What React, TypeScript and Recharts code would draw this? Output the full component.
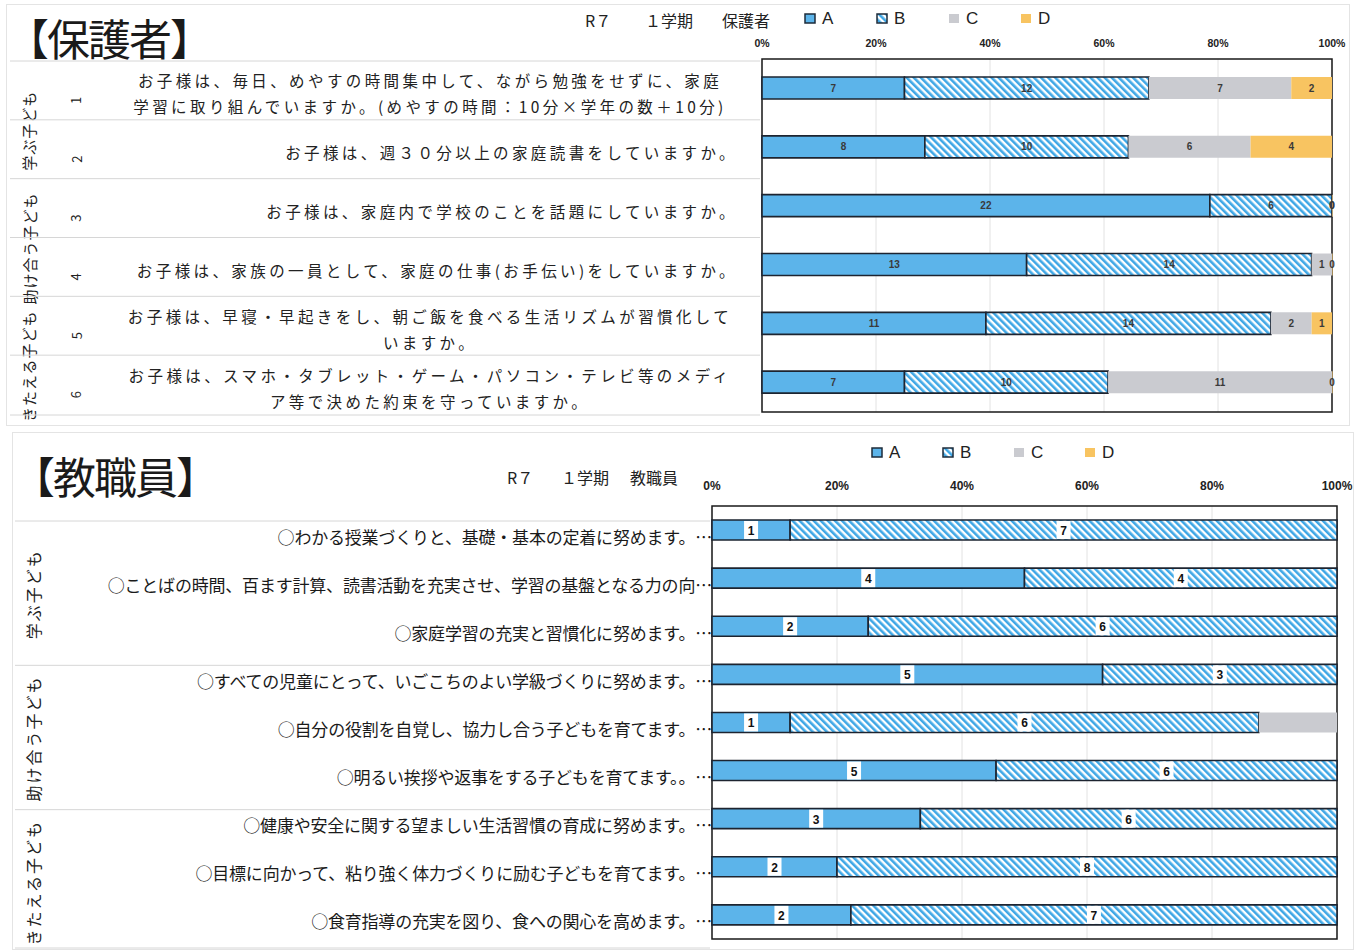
import React from 'react';
import { BarChart, Bar, XAxis, YAxis, CartesianGrid, LabelList, ReferenceArea } from 'recharts';

const JP = '"Noto Sans CJK JP", "Noto Sans", sans-serif';
const SANS = '"Liberation Sans", Arial, sans-serif';

// 保護者アンケート
const parentIds = ['1', '2', '3', '4', '5', '6'];
const parentQuestions = [
  ['お子様は、毎日、めやすの時間集中して、ながら勉強をせずに、家庭', '学習に取り組んでいますか。(めやすの時間：10分×学年の数＋10分)'],
  ['お子様は、週３０分以上の家庭読書をしていますか。'],
  ['お子様は、家庭内で学校のことを話題にしていますか。'],
  ['お子様は、家族の一員として、家庭の仕事(お手伝い)をしていますか。'],
  ['お子様は、早寝・早起きをし、朝ご飯を食べる生活リズムが習慣化して', 'いますか。'],
  ['お子様は、スマホ・タブレット・ゲーム・パソコン・テレビ等のメディ', 'ア等で決めた約束を守っていますか。'],
];
const parentA = [7, 8, 22, 13, 11, 7];
const parentB = [12, 10, 6, 14, 14, 10];
const parentC = [7, 6, 0, 1, 2, 11];
const parentD = [2, 4, 0, 0, 1, 0];

// 教職員アンケート
const teacherQuestions = [
  '○わかる授業づくりと、基礎・基本の定着に努めます。…',
  '○ことばの時間、百ます計算、読書活動を充実させ、学習の基盤となる力の向…',
  '○家庭学習の充実と習慣化に努めます。…',
  '○すべての児童にとって、いごこちのよい学級づくりに努めます。…',
  '○自分の役割を自覚し、協力し合う子どもを育てます。…',
  '○明るい挨拶や返事をする子どもを育てます。。…',
  '○健康や安全に関する望ましい生活習慣の育成に努めます。…',
  '○目標に向かって、粘り強く体力づくりに励む子どもを育てます。…',
  '○食育指導の充実を図り、食への関心を高めます。…',
];
const teacherA = [1, 4, 2, 5, 1, 5, 3, 2, 2];
const teacherB = [7, 4, 6, 3, 6, 6, 6, 8, 7];
const teacherC = [0, 0, 0, 0, 1, 0, 0, 0, 0];
const teacherD = [0, 0, 0, 0, 0, 0, 0, 0, 0];

const groupNames = ['学ぶ子ども', '助け合う子ども', 'きたえる子ども'];
const parentGroupSizes = [2, 2, 2];
const teacherGroupSizes = [3, 3, 3];

const seriesKeys = ['A', 'B', 'C', 'D'];
const percentTicks = [0, 0.2, 0.4, 0.6, 0.8, 1];

const parentData = parentIds.map((id, i) => ({
  id, A: parentA[i], B: parentB[i], C: parentC[i], D: parentD[i],
}));
const teacherData = teacherQuestions.map((q, i) => ({
  id: q, A: teacherA[i], B: teacherB[i], C: teacherC[i], D: teacherD[i],
}));

const colors: Record<string, string> = {
  A: '#5CB4EA',
  B: 'url(#hatchB)',
  C: '#CACBD0',
  D: '#F8C461',
};
const outlined: Record<string, boolean> = { A: true, B: true, C: false, D: false };

const groupStarts = (sizes: number[]) => {
  const starts: Record<number, number> = {};
  let k = 0;
  sizes.forEach((s, g) => { starts[k] = g; k += s; });
  return starts;
};
const parentStarts = groupStarts(parentGroupSizes);
const teacherStarts = groupStarts(teacherGroupSizes);

// chart geometry
const P_H = 425;
const P_MARGIN = { top: 39, right: 31, bottom: 13, left: 0 };
const P_ROW = (P_H - P_MARGIN.top - 20 - P_MARGIN.bottom) / parentIds.length;

const T_H = 522;
const T_MARGIN = { top: 56, right: 26, bottom: 13, left: 0 };
const T_ROW = (T_H - T_MARGIN.top - 20 - T_MARGIN.bottom) / teacherQuestions.length;

const pct = (v: number) => `${Math.round(v * 100)}%`;

const ParentTick = (props: any) => {
  const { y, payload } = props;
  const i = props.index ?? payload.index;
  const lines = parentQuestions[i] || [];
  const g = parentStarts[i];
  const lineGap = 26;
  const firstY = y + 5 - ((lines.length - 1) * lineGap) / 2;
  return (
    <g>
      <line x1={10} x2={760} y1={y - P_ROW / 2 + 2} y2={y - P_ROW / 2 + 2} stroke="#d6d6d6" />
      {i === parentIds.length - 1 && (
        <line x1={10} x2={760} y1={y + P_ROW / 2 + 3} y2={y + P_ROW / 2 + 3} stroke="#d6d6d6" />
      )}
      <text
        x={76} y={y + 12} fontSize={13} fill="#222" fontFamily={JP}
        textAnchor="middle" dominantBaseline="central"
        transform={`rotate(-90 76 ${y + 12})`}
      >
        {payload.value}
      </text>
      {lines.map((t: string, k: number) => (
        <text
          key={k}
          x={lines.length > 1 ? 430 : 738}
          y={firstY + k * lineGap}
          textAnchor={lines.length > 1 ? 'middle' : 'end'}
          dominantBaseline="central"
          fontSize={15.5}
          letterSpacing={3.4}
          fill="#222"
          fontFamily={JP}
        >
          {t}
        </text>
      ))}
      {g !== undefined && (() => {
        const cy = y - P_ROW / 2 + (parentGroupSizes[g] * P_ROW) / 2 + 13;
        return (
          <text
            x={29} y={cy} fontSize={15} fill="#222" fontFamily={JP}
            textAnchor="middle" dominantBaseline="central" letterSpacing={1}
            transform={`rotate(-90 29 ${cy})`}
          >
            {groupNames[g]}
          </text>
        );
      })()}
    </g>
  );
};

const TeacherTick = (props: any) => {
  const { y, payload } = props;
  const i = props.index ?? payload.index;
  const g = teacherStarts[i];
  return (
    <g>
      {g !== undefined && (
        <line x1={15} x2={710} y1={y - T_ROW / 2 + 15} y2={y - T_ROW / 2 + 15} stroke="#d6d6d6" />
      )}
      {i === teacherQuestions.length - 1 && (
        <line x1={15} x2={710} y1={y + T_ROW / 2 + 9} y2={y + T_ROW / 2 + 9} stroke="#d6d6d6" />
      )}
      <text
        x={712} y={y + 6} textAnchor="end" dominantBaseline="central"
        fontSize={17} fill="#1a1a1a" fontFamily={JP} letterSpacing={-0.2}
      >
        {payload.value}
      </text>
      {g !== undefined && (() => {
        const cy = y - T_ROW / 2 + (teacherGroupSizes[g] * T_ROW) / 2 + 16;
        return (
          <text
            x={33} y={cy} fontSize={16} fill="#222" fontFamily={JP}
            textAnchor="middle" dominantBaseline="central" letterSpacing={2}
            transform={`rotate(-90 33 ${cy})`}
          >
            {groupNames[g]}
          </text>
        );
      })()}
    </g>
  );
};

const BoxLabel = (props: any) => {
  const { x, y, width, height, value } = props;
  if (!value) return null;
  const cx = x + width / 2;
  const cy = y + height / 2;
  return (
    <g>
      <rect x={cx - 7} y={cy - 9} width={14} height={18} fill="#fff" />
      <text
        x={cx} y={cy + 1} textAnchor="middle" dominantBaseline="central"
        fontSize={12} fontWeight={700} fill="#111" fontFamily={SANS}
      >
        {value}
      </text>
    </g>
  );
};

const CenterLabel = (props: any) => {
  const { x, y, width, height, value } = props;
  if (value === undefined || value === null) return null;
  const w = value === 0 ? 0 : width;
  return (
    <text
      x={x + w / 2} y={y + height / 2} textAnchor="middle" dominantBaseline="central"
      fontSize={10} fontWeight={700} fill="#3a3a3a" fontFamily={SANS}
    >
      {value}
    </text>
  );
};

const LegendRow = ({ left, top, gap }: { left: number; top: number; gap: number }) => (
  <div style={{ position: 'absolute', left, top, display: 'flex', alignItems: 'center' }}>
    {seriesKeys.map((k) => (
      <div key={k} style={{ display: 'flex', alignItems: 'center', width: gap }}>
        <svg width={12} height={11} style={{ marginRight: 6 }}>
          <rect
            x={1} y={1} width={10} height={9} fill={colors[k]}
            stroke={outlined[k] ? '#1d2b3a' : 'none'} strokeWidth={1.5}
          />
        </svg>
        <span style={{ fontFamily: SANS, fontSize: 17, color: '#222', lineHeight: 1 }}>{k}</span>
      </div>
    ))}
  </div>
);

const bigTitle = (text: string, left: number, top: number) => (
  <div
    style={{
      position: 'absolute', left, top, fontFamily: JP, fontSize: 43, lineHeight: 1,
      color: '#1a1a1a', whiteSpace: 'nowrap', letterSpacing: -2,
    }}
  >
    {text}
  </div>
);

const smallTitle = (parts: string[], lefts: number[], top: number) => (
  <>
    {parts.map((p, i) => (
      <div
        key={i}
        style={{
          position: 'absolute', left: lefts[i], top, fontFamily: JP, fontSize: 16,
          lineHeight: 1, color: '#222', whiteSpace: 'nowrap',
        }}
      >
        {p}
      </div>
    ))}
  </>
);

const topTick = { fontSize: 10.5, fill: '#222', fontFamily: SANS, fontWeight: 700 };
const bottomTick = { fontSize: 12, fill: '#222', fontFamily: SANS, fontWeight: 700 };

export default function App() {
  return (
    <div style={{ position: 'absolute', left: 0, top: 0, width: 1363, height: 952, background: '#fff', overflow: 'hidden' }}>
      <svg width={0} height={0} style={{ position: 'absolute' }}>
        <defs>
          <pattern id="hatchB" width={5} height={5} patternUnits="userSpaceOnUse" patternTransform="rotate(-45)">
            <rect width={5} height={5} fill="#fff" />
            <rect width={2.6} height={5} fill="#3FA7E6" />
          </pattern>
        </defs>
      </svg>

      <div style={{ position: 'absolute', left: 6, top: 4, width: 1342, height: 420, border: '1px solid #e4e4e4' }} />
      <div style={{ position: 'absolute', left: 12, top: 432, width: 1340, height: 516, border: '1px solid #e4e4e4' }} />

      <div style={{ position: 'absolute', left: 0, top: 0 }}>
        <BarChart
          width={1363} height={P_H} data={parentData} layout="vertical"
          stackOffset="expand" margin={P_MARGIN} barSize={22}
        >
          <CartesianGrid horizontal={false} stroke="#e2e2e2" />
          <XAxis
            type="number" orientation="top" height={20} domain={[0, 1]} ticks={percentTicks}
            tickFormatter={pct} axisLine={false} tickLine={false} tickMargin={6} tick={topTick}
          />
          <YAxis
            type="category" dataKey="id" width={762} axisLine={false} tickLine={false}
            interval={0} tick={(p: any) => <ParentTick {...p} />}
          />
          <ReferenceArea x1={0} x2={1} fill="none" stroke="#1a1a1a" strokeWidth={1.5} fillOpacity={0} />
          {seriesKeys.map((k) => (
            <Bar
              key={k} dataKey={k} stackId="s" fill={colors[k]} isAnimationActive={false}
              stroke={outlined[k] ? '#1d2430' : 'none'} strokeWidth={1.6}
              minPointSize={outlined[k] ? 0 : 0.5}
            >
              <LabelList dataKey={k} content={<CenterLabel />} />
            </Bar>
          ))}
        </BarChart>
      </div>

      {bigTitle('【保護者】', 6, 16)}
      {smallTitle(['R７', '１学期', '保護者'], [585, 645, 722], 12)}
      <LegendRow left={804} top={10} gap={72} />

      <div style={{ position: 'absolute', left: 0, top: 430 }}>
        <BarChart
          width={1363} height={T_H} data={teacherData} layout="vertical"
          stackOffset="expand" margin={T_MARGIN} barSize={20}
        >
          <CartesianGrid horizontal={false} stroke="#e2e2e2" />
          <XAxis
            type="number" orientation="top" height={20} domain={[0, 1]} ticks={percentTicks}
            tickFormatter={pct} axisLine={false} tickLine={false} tickMargin={10} tick={bottomTick}
          />
          <YAxis
            type="category" dataKey="id" width={712} axisLine={false} tickLine={false}
            interval={0} tick={(p: any) => <TeacherTick {...p} />}
          />
          <ReferenceArea x1={0} x2={1} fill="none" stroke="#1a1a1a" strokeWidth={1.5} fillOpacity={0} />
          {seriesKeys.map((k) => (
            <Bar
              key={k} dataKey={k} stackId="s" fill={colors[k]} isAnimationActive={false}
              stroke={outlined[k] ? '#1d2430' : 'none'} strokeWidth={1.6}
            >
              {outlined[k] && <LabelList dataKey={k} content={<BoxLabel />} />}
            </Bar>
          ))}
        </BarChart>
      </div>

      {bigTitle('【教職員】', 12, 454)}
      {smallTitle(['R７', '１学期', '教職員'], [507, 561, 630], 469)}
      <LegendRow left={871} top={444} gap={71} />
    </div>
  );
}
